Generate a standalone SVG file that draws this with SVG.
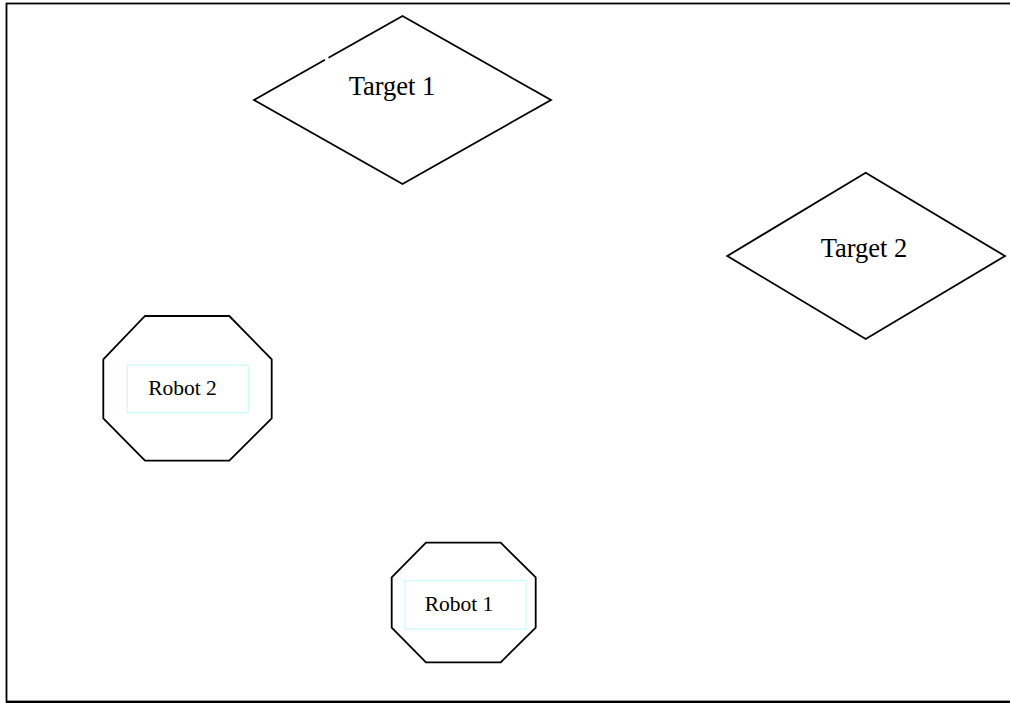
<svg xmlns="http://www.w3.org/2000/svg" width="1010" height="703" viewBox="0 0 1010 703">
<style>
.shape{fill:none;stroke:#000;stroke-width:1.8;stroke-linejoin:miter}
.inner{fill:none;stroke:#c8fafa;stroke-width:1.2}
.lbl{font-family:"Liberation Serif","Times New Roman",serif;fill:#000;text-anchor:middle}
.big{font-size:26.5px}
.small{font-size:21.5px}
</style>
<rect width="1010" height="703" fill="#fff"/>
<rect x="6.5" y="3.5" width="1010" height="698" fill="none" stroke="#000" stroke-width="1.8"/>
<line x1="6" y1="702" x2="1010" y2="702" stroke="#000" stroke-width="2"/>
<g id="target1">
<path class="shape" d="M325,59.8 L254,100 L402.5,184 L551,100 L402.5,16 L328.5,57.8"/>
<text class="lbl big" x="392" y="95">Target 1</text>
</g>
<g id="target2">
<polygon class="shape" points="865.7,172.7 1005,256 865.7,339 727.3,256"/>
<text class="lbl big" x="864" y="257">Target 2</text>
</g>
<g id="robot2">
<polygon class="shape" points="145,316 229.3,316 271.7,359.3 271.7,418.3 229.3,460.7 145,460.7 103.3,418.3 103.3,359.3"/>
<rect class="inner" x="127.3" y="365" width="121" height="47.7"/>
<text class="lbl small" x="182.5" y="395">Robot 2</text>
</g>
<g id="robot1">
<polygon class="shape" points="426,542.7 500.7,542.7 535.7,577.3 535.7,627.7 500.7,662.3 426,662.3 391.7,627.7 391.7,577.3"/>
<rect class="inner" x="405" y="580.7" width="121" height="48.3"/>
<text class="lbl small" x="459" y="611">Robot 1</text>
</g>
<g id="connectors"></g>
</svg>
